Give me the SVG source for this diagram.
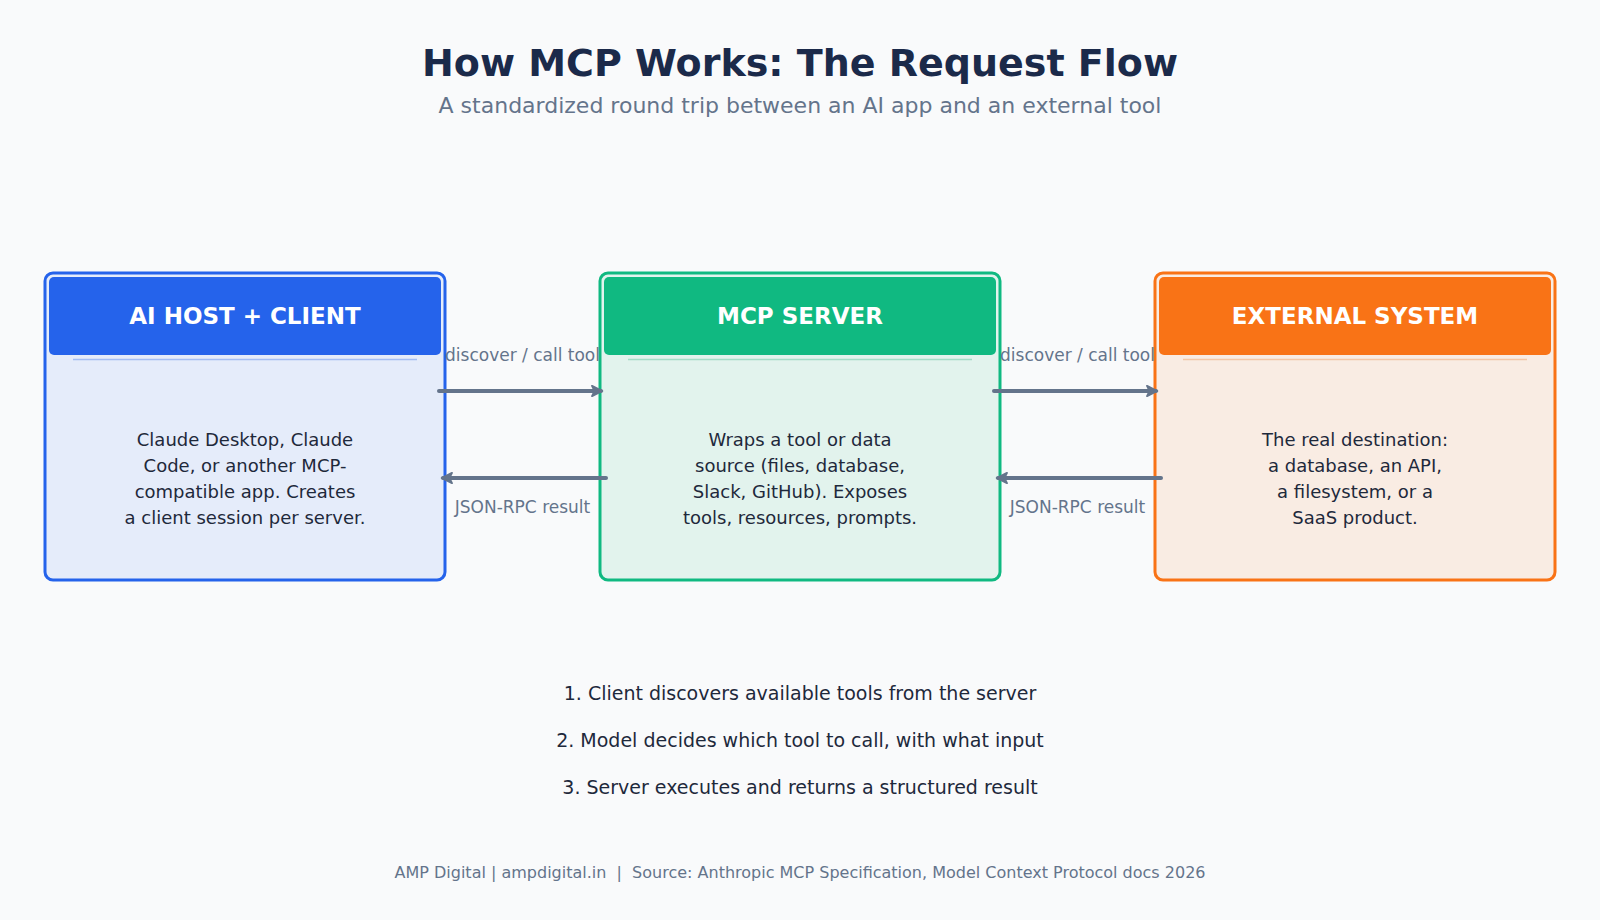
<svg xmlns="http://www.w3.org/2000/svg" width="1600" height="920" viewBox="0 0 1600 920">
  <defs>
    <marker id="ah" viewBox="0 0 10 10" refX="8" refY="5" markerWidth="3.2" markerHeight="3.2" orient="auto" markerUnits="strokeWidth">
      <path d="M1,1 L9,5 L1,9 L3,5 Z" fill="#64748b" stroke="#64748b" stroke-width="1.5" stroke-linejoin="round"/>
    </marker>
  </defs>
  <style>
    text { font-family: "DejaVu Sans", "Noto Sans", sans-serif; }
    .title { font-size: 38px; font-weight: bold; fill: #1b2a4a; text-anchor: middle; }
    .subtitle { font-size: 22px; fill: #64748b; text-anchor: middle; }
    .head { font-size: 23px; font-weight: bold; fill: #ffffff; text-anchor: middle; }
    .body { font-size: 18px; fill: #1e293b; text-anchor: middle; }
    .lbl { font-size: 17px; fill: #64748b; text-anchor: middle; }
    .step { font-size: 19px; fill: #1e293b; text-anchor: middle; }
    .foot { font-size: 16px; fill: #64748b; text-anchor: middle; }
    .conn { stroke: #64748b; stroke-width: 4; fill: none; stroke-linecap: round; marker-end: url(#ah); }
    .div { stroke-width: 1.5; }
  </style>
  <rect x="0" y="0" width="1600" height="920" fill="#f9fafb"/>

  <text class="title" x="800" y="76">How MCP Works: The Request Flow</text>
  <text class="subtitle" x="800" y="113">A standardized round trip between an AI app and an external tool</text>

  <g id="node-host">
    <rect x="45" y="273" width="400" height="307" rx="8" fill="#e5ecfa" stroke="#2563eb" stroke-width="3"/>
    <rect x="49" y="277" width="392" height="78" rx="5" fill="#2563eb"/>
    <line class="div" x1="73" y1="359.5" x2="417" y2="359.5" stroke="#a3bdf3"/>
    <text class="head" x="245" y="324">AI HOST + CLIENT</text>
    <text class="body" x="245" y="446">Claude Desktop, Claude</text>
    <text class="body" x="245" y="472">Code, or another MCP-</text>
    <text class="body" x="245" y="498">compatible app. Creates</text>
    <text class="body" x="245" y="524">a client session per server.</text>
  </g>

  <g id="node-server">
    <rect x="600" y="273" width="400" height="307" rx="8" fill="#e2f3ed" stroke="#10b981" stroke-width="3"/>
    <rect x="604" y="277" width="392" height="78" rx="5" fill="#10b981"/>
    <line class="div" x1="628" y1="359.5" x2="972" y2="359.5" stroke="#a3dcc7"/>
    <text class="head" x="800" y="324">MCP SERVER</text>
    <text class="body" x="800" y="446">Wraps a tool or data</text>
    <text class="body" x="800" y="472">source (files, database,</text>
    <text class="body" x="800" y="498">Slack, GitHub). Exposes</text>
    <text class="body" x="800" y="524">tools, resources, prompts.</text>
  </g>

  <g id="node-external">
    <rect x="1155" y="273" width="400" height="307" rx="8" fill="#f9ece3" stroke="#f97316" stroke-width="3"/>
    <rect x="1159" y="277" width="392" height="78" rx="5" fill="#f97316"/>
    <line class="div" x1="1183" y1="359.5" x2="1527" y2="359.5" stroke="#f3c6a6"/>
    <text class="head" x="1355" y="324">EXTERNAL SYSTEM</text>
    <text class="body" x="1355" y="446">The real destination:</text>
    <text class="body" x="1355" y="472">a database, an API,</text>
    <text class="body" x="1355" y="498">a filesystem, or a</text>
    <text class="body" x="1355" y="524">SaaS product.</text>
  </g>

  <g id="connectors">
    <line class="conn" x1="439" y1="391" x2="601" y2="391"/>
    <line class="conn" x1="606" y1="478" x2="443" y2="478"/>
    <line class="conn" x1="994" y1="391" x2="1156" y2="391"/>
    <line class="conn" x1="1161" y1="478" x2="998" y2="478"/>
    <text class="lbl" x="522.5" y="361">discover / call tool</text>
    <text class="lbl" x="522.5" y="513">JSON-RPC result</text>
    <text class="lbl" x="1077.5" y="361">discover / call tool</text>
    <text class="lbl" x="1077.5" y="513">JSON-RPC result</text>
  </g>

  <text class="step" x="800" y="700">1. Client discovers available tools from the server</text>
  <text class="step" x="800" y="747">2. Model decides which tool to call, with what input</text>
  <text class="step" x="800" y="794">3. Server executes and returns a structured result</text>

  <text class="foot" x="800" y="878" xml:space="preserve">AMP Digital | ampdigital.in  |  Source: Anthropic MCP Specification, Model Context Protocol docs 2026</text>
</svg>
